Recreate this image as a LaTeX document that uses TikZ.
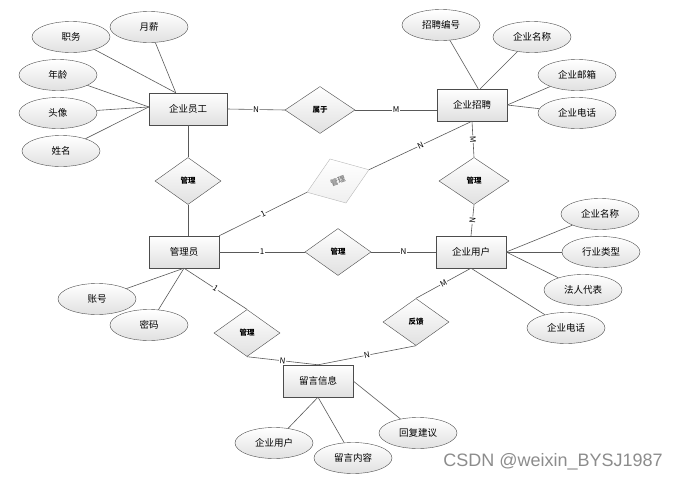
\documentclass[tikz,border=0pt]{standalone}
\usepackage{fontspec}
\setmainfont{Noto Sans CJK SC}
\newfontfamily\wmfont{Liberation Sans}
\usetikzlibrary{shapes.geometric}

\begin{document}
\begin{tikzpicture}[x=1pt, y=-1pt,
    entity/.style={rectangle, draw=black!70, top color=white, bottom color=black!12, minimum width=70pt, minimum height=32pt, font=\fontsize{9.5}{10}\selectfont},
    attr/.style={ellipse, draw=black!70, top color=white, bottom color=black!12, minimum width=78pt, minimum height=31pt, inner sep=0pt, font=\fontsize{9.5}{10}\selectfont},
    rel/.style={diamond, draw=black!70, top color=white, bottom color=black!12, minimum width=66pt, minimum height=47pt, inner sep=0pt, font=\bfseries\fontsize{7.5}{8}\selectfont},
    conn/.style={draw=black!65, line width=0.6pt},
    card/.style={fill=white, inner sep=0.6pt, sloped, font=\fontsize{8}{8}\selectfont}]
                \useasboundingbox (0,0) rectangle (681,482);

                % entities
                \node[entity, minimum width=78pt] (emp) at (188,109) {企业员工};
                \node[entity] (rec) at (472,105) {企业招聘};
                \node[entity] (adm) at (184,252) {管理员};
                \node[entity] (usr) at (471,252) {企业用户};
                \node[entity] (msg) at (318,381) {留言信息};

                % relations
                \node[rel, minimum width=70pt] (belong) at (320,110) {属于};
                \node[rel] (m1) at (188,181) {管理};
                \node[rel, draw=black!28, text=black!45, bottom color=black!6, rotate=20] (m2) at (338,181) {管理};
                \node[rel, minimum width=70pt] (m3) at (474,181) {管理};
                \node[rel] (m4) at (338,252) {管理};
                \node[rel] (m5) at (247,333) {管理};
                \node[rel] (fb) at (416,322) {反馈};

                % attributes
                \node[attr] (salary) at (149,27) {月薪};
                \node[attr] (post) at (71,37) {职务};
                \node[attr] (age) at (58,75) {年龄};
                \node[attr] (photo) at (58,113) {头像};
                \node[attr] (name) at (61,151) {姓名};
                \node[attr] (recno) at (441,25) {招聘编号};
                \node[attr] (rname) at (532,37) {企业名称};
                \node[attr] (rmail) at (577,75) {企业邮箱};
                \node[attr] (rtel) at (577,113) {企业电话};
                \node[attr] (uname) at (600,214) {企业名称};
                \node[attr] (utype) at (601,252) {行业类型};
                \node[attr] (ulegal) at (583,290) {法人代表};
                \node[attr] (utel) at (566,328) {企业电话};
                \node[attr] (acct) at (97,299) {账号};
                \node[attr] (pwd) at (149,325) {密码};
                \node[attr] (muser) at (274,443) {企业用户};
                \node[attr] (mtext) at (353,458) {留言内容};
                \node[attr] (mreply) at (418,433) {回复建议};

                % attribute lines
                \draw[conn] (salary) -- (emp.127);
                \draw[conn] (post) -- (emp.127);
                \draw[conn] (age) -- (emp.177);
                \draw[conn] (photo) -- (emp.177);
                \draw[conn] (name) -- (emp.177);
                \draw[conn] (recno) -- (rec.69);
                \draw[conn] (rname) -- (rec.63);
                \draw[conn] (rmail) -- (rec.east);
                \draw[conn] (rtel) -- (rec.east);
                \draw[conn] (uname) -- (usr.east);
                \draw[conn] (utype) -- (usr.east);
                \draw[conn] (ulegal) -- (usr.east);
                \draw[conn] (utel) -- (usr.south);
                \draw[conn] (acct) -- (adm.south);
                \draw[conn] (pwd) -- (adm.south);
                \draw[conn] (muser) -- (msg.south);
                \draw[conn] (mtext) -- (msg.south);
                \draw[conn] (mreply) -- (msg.east);

                % relation lines
                \draw[conn] (emp.east) -- node[card] {N} (belong.west);
                \draw[conn] (belong.east) -- node[card] {M} (belong.east -| rec.west);
                \draw[conn] (emp.south) -- (m1.north);
                \draw[conn] (m1.south) -- (m1.south |- adm.north);
                \draw[conn] (adm.north east) -- node[card] {1} (m2.west);
                \draw[conn] (m2.east) -- node[card] {N} (rec.south);
                \draw[conn] (rec.south) -- node[card] {M} (m3.north);
                \draw[conn] (m3.south) -- node[card] {N} (usr.north);
                \draw[conn] (adm.east) -- node[card] {1} (m4.west);
                \draw[conn] (m4.east) -- node[card] {N} (usr.west);
                \draw[conn] (adm.south) -- node[card] {1} (m5.north);
                \draw[conn] (m5.south) -- node[card] {N} (msg.north);
                \draw[conn] (usr.south) -- node[card] {M} (fb.north);
                \draw[conn] (fb.south) -- node[card] {N} (msg.north);

                \node[font=\wmfont\fontsize{18}{18}\selectfont, text=black!45] (wm) at (553,462) {CSDN @weixin\_BYSJ1987};
            \end{tikzpicture}
\end{document}
